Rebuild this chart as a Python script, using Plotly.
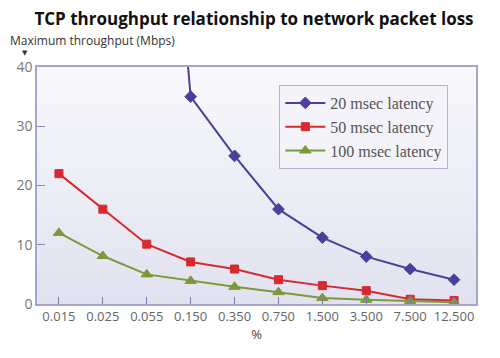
import plotly.graph_objects as go

categories = ["0.015", "0.025", "0.055", "0.150", "0.350", "0.750", "1.500", "3.500", "7.500", "12.500"]
lat20 = [None, None, 120, 35, 25, 16, 11.2, 8, 5.9, 4.1]
lat50 = [22, 16, 10.1, 7.1, 5.9, 4.1, 3.1, 2.25, 0.8, 0.6]
lat100 = [12, 8.1, 5.0, 3.9, 2.9, 2.0, 1.0, 0.7, 0.5, 0.3]
yticks = [0, 10, 20, 30, 40]

fig = go.Figure()
series = [
    ("20 msec latency", lat20, "#4a3f9c", "diamond", 9),
    ("50 msec latency", lat50, "#d62a2f", "square", 8),
    ("100 msec latency", lat100, "#7c9a3c", "triangle-up", 10),
]
for name, vals, col, sym, sz in series:
    fig.add_trace(go.Scatter(
        x=categories, y=vals, name=name, mode="lines+markers",
        line=dict(color=col, width=2),
        marker=dict(symbol=sym, size=sz, color=col, line=dict(color=col, width=1)),
        connectgaps=False,
    ))

# soft vertical gradient for plot background
n = 24
top = (248, 248, 252)
bot = (226, 226, 240)
for i in range(n):
    t = i / (n - 1)
    c = tuple(int(round(top[k] + (bot[k] - top[k]) * t)) for k in range(3))
    fig.add_shape(type="rect", xref="x domain", yref="y domain",
                  x0=0, x1=1, y0=1 - (i + 1) / n, y1=1 - i / n,
                  fillcolor="rgb(%d,%d,%d)" % c, line=dict(width=0), layer="below")

# page body has an 8px margin, so the figure is 492x350 and offset by 8px
fig.update_layout(
    width=492, height=350,
    margin=dict(l=29, r=24, t=59, b=54, autoexpand=False),
    paper_bgcolor="white",
    plot_bgcolor="#eeeef6",
    title=dict(text="<b>TCP throughput relationship to network packet loss</b>",
               x=0.5, xanchor="center", y=0.985, yanchor="top",
               font=dict(family="Open Sans", size=17, color="#111111")),
    showlegend=True,
    legend=dict(x=0.937, xanchor="right", y=0.924, yanchor="top",
                bgcolor="#f3f3f9", bordercolor="#b4b4d2", borderwidth=1,
                font=dict(family="Liberation Serif", size=16, color="#555555"),
                tracegroupgap=0, itemwidth=40),
    annotations=[
        dict(text="Maximum throughput (Mbps)", xref="paper", yref="paper",
             x=-0.066, y=1.112, xanchor="left", yanchor="middle", showarrow=False,
             font=dict(family="Open Sans", size=12, color="#333333")),
        dict(text="▼", xref="paper", yref="paper",
             x=-0.027, y=1.061, xanchor="center", yanchor="middle", showarrow=False,
             font=dict(family="DejaVu Sans", size=7, color="#333333")),
    ],
)
fig.update_xaxes(
    type="category", range=[-0.5, 9.5], automargin=False,
    showline=True, linecolor="#a6a6cc", linewidth=1.5, mirror=True,
    ticks="inside", ticklen=7, tickcolor="#7a7ab0", showgrid=False,
    tickfont=dict(family="Open Sans", size=13, color="#666666"),
    title=dict(text="%", font=dict(family="Open Sans", size=13, color="#444444"), standoff=2),
)
fig.update_yaxes(
    range=[0, 40], tickvals=yticks, automargin=False,
    showline=True, linecolor="#a6a6cc", linewidth=1.5, mirror=True,
    ticks="inside", ticklen=8, tickcolor="#8a8ab8", showgrid=False, zeroline=False,
    tickfont=dict(family="Open Sans", size=14, color="#777777"),
)

fig.write_html("out.html")
